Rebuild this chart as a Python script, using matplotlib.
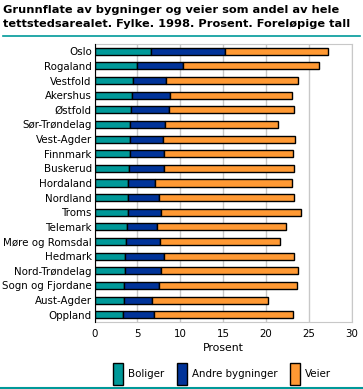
import matplotlib
matplotlib.use("Agg")
import matplotlib.pyplot as plt
import numpy as np
from matplotlib.lines import Line2D

fylker = ["Oslo", "Rogaland", "Vestfold", "Akershus", "Østfold", "Sør-Trøndelag",
          "Vest-Agder", "Finnmark", "Buskerud", "Hordaland", "Nordland", "Troms",
          "Telemark", "Møre og Romsdal", "Hedmark", "Nord-Trøndelag",
          "Sogn og Fjordane", "Aust-Agder", "Oppland"]
boliger = [6.6, 5.0, 4.5, 4.4, 4.3, 4.15, 4.15, 4.15, 4.0, 3.9, 3.9, 3.9, 3.8, 3.7, 3.5, 3.55, 3.45, 3.45, 3.3]
andre_bygninger = [8.6, 5.3, 3.8, 4.45, 4.35, 4.1, 3.85, 3.95, 4.1, 3.15, 3.6, 3.9, 3.5, 3.95, 4.6, 4.25, 4.1, 3.2, 3.65]
veier = [12.0, 15.85, 15.45, 14.15, 14.6, 13.1, 15.35, 15.05, 15.15, 15.95, 15.7, 16.25, 15.0, 13.95, 15.15, 15.9, 16.05, 13.55, 16.15]
xticks = [0, 5, 10, 15, 20, 25, 30]

c_bol = "#009999"
c_and = "#003399"
c_vei = "#ff9933"

W, H = 363, 389
fig = plt.figure(figsize=(W / 100, H / 100), dpi=100)
plt.rcParams['font.family'] = ['DejaVu Sans']

left, right, top, bottom = 94.5, 352.0, 44.0, 322.0
ax = fig.add_axes([left / W, 1 - bottom / H, (right - left) / W, (bottom - top) / H])

y = np.arange(len(fylker))
b = np.array(boliger)
a = np.array(andre_bygninger)
v = np.array(veier)
kw = dict(height=0.48, edgecolor="black", linewidth=1.0, zorder=3)
ax.barh(y, b, color=c_bol, label="Boliger", **kw)
ax.barh(y, a, left=b, color=c_and, label="Andre bygninger", **kw)
ax.barh(y, v, left=b + a, color=c_vei, label="Veier", **kw)

ax.set_ylim(len(fylker) - 0.5, -0.5)
ax.set_xlim(0, 30)
ax.set_xticks(xticks)
ax.set_yticks(y)
ax.set_yticklabels(fylker, fontsize=7.4)
ax.tick_params(axis="x", labelsize=7.4, length=0, pad=5)
ax.tick_params(axis="y", length=0, pad=2)
ax.grid(axis="x", color="#c8c8c8", linewidth=1, zorder=0)
for s in ["top", "right", "bottom"]:
    ax.spines[s].set_color("#c8c8c8")
ax.spines["left"].set_color("black")
ax.spines["left"].set_zorder(4)
ax.set_xlabel("Prosent", fontsize=7.8, labelpad=3)

fig.text(3 / W, 1 - 5 / H, "Grunnflate av bygninger og veier som andel av hele\ntettstedsarealet. Fylke. 1998. Prosent. Foreløpige tall",
         fontsize=8.2, fontweight="bold", va="top", ha="left", linespacing=1.45)

fig.add_artist(Line2D([3 / W, 360 / W], [1 - 36 / H, 1 - 36 / H], color="#009999", linewidth=1.2))
fig.add_artist(Line2D([0, 1], [1 - 387.5 / H, 1 - 387.5 / H], color="#009999", linewidth=1.5))

handles, labels = ax.get_legend_handles_labels()
fig.legend(handles, labels, loc="center", bbox_to_anchor=(222 / W, 1 - 374 / H), ncol=3,
           frameon=False, fontsize=7.4, handlelength=1.0, handleheight=2.8,
           handletextpad=0.5, columnspacing=1.2)

fig.savefig("out.png", dpi=100)
